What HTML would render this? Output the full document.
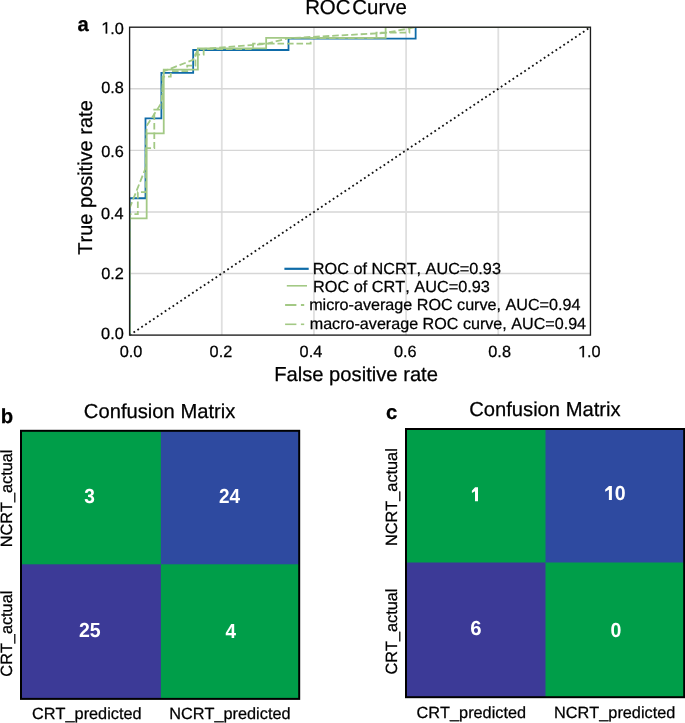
<!DOCTYPE html><html><head><meta charset="utf-8"><style>html,body{margin:0;padding:0;background:#fff;}svg{display:block;will-change:transform;}text{font-family:"Liberation Sans",sans-serif;text-rendering:geometricPrecision;font-kerning:none;}</style></head><body>
<svg width="685" height="723" viewBox="0 0 685 723">
<rect width="685" height="723" fill="#fff"/>
<defs><clipPath id="ax"><rect x="129.60" y="27.20" width="460.85" height="307.9"/></clipPath></defs>
<line x1="221.77" y1="335.10" x2="221.77" y2="27.20" stroke="#dfdfdf" stroke-width="1.8"/>
<line x1="129.60" y1="273.52" x2="590.45" y2="273.52" stroke="#d6d6d6" stroke-width="1.4"/>
<line x1="313.94" y1="335.10" x2="313.94" y2="27.20" stroke="#dfdfdf" stroke-width="1.8"/>
<line x1="129.60" y1="211.94" x2="590.45" y2="211.94" stroke="#d6d6d6" stroke-width="1.4"/>
<line x1="406.11" y1="335.10" x2="406.11" y2="27.20" stroke="#dfdfdf" stroke-width="1.8"/>
<line x1="129.60" y1="150.36" x2="590.45" y2="150.36" stroke="#d6d6d6" stroke-width="1.4"/>
<line x1="498.28" y1="335.10" x2="498.28" y2="27.20" stroke="#dfdfdf" stroke-width="1.8"/>
<line x1="129.60" y1="88.78" x2="590.45" y2="88.78" stroke="#d6d6d6" stroke-width="1.4"/>
<line x1="129.60" y1="335.10" x2="590.45" y2="27.20" stroke="#111" stroke-width="1.8" stroke-dasharray="1.8 2.9"/>
<g clip-path="url(#ax)">
<polyline points="129.60,335.10 129.60,198.26 145.49,198.26 145.49,118.43 161.38,118.43 161.38,72.81 193.17,72.81 193.17,50.01 288.51,50.01 288.51,38.60 415.64,38.60 415.64,27.20 590.45,27.20" fill="none" stroke="#0e6ba8" stroke-width="1.8"/>
<polyline points="129.60,335.10 129.60,218.31 146.67,218.31 146.67,133.37 163.74,133.37 163.74,69.67 197.87,69.67 197.87,48.43 266.15,48.43 266.15,37.82 385.63,37.82 385.63,27.20 590.45,27.20" fill="none" stroke="#a3c985" stroke-width="1.8"/>
<polyline points="129.60,335.10 129.60,214.14 137.83,214.14 137.83,192.15 146.06,192.15 146.06,148.16 154.29,148.16 154.29,109.67 162.52,109.67 162.52,76.68 170.75,76.68 170.75,71.19 187.21,71.19 187.21,65.69 195.44,65.69 195.44,54.69 203.67,54.69 203.67,49.19 253.04,49.19 253.04,43.69 310.65,43.69 310.65,38.20 376.48,38.20 376.48,32.70 409.40,32.70 409.40,27.20 590.45,27.20" fill="none" stroke="#a3c985" stroke-width="1.8" stroke-dasharray="6.6 2.9" stroke-dashoffset="7.2"/>
<polyline points="129.60,208.28 145.49,168.37 146.67,125.90 161.38,103.09 163.74,71.24 193.17,59.84 197.87,49.22 266.15,43.91 288.51,38.21 385.63,32.90 415.64,27.20 590.45,27.20" fill="none" stroke="#a3c985" stroke-width="1.8" stroke-dasharray="6.6 2.9" stroke-dashoffset="0"/>
</g>
<rect x="129.60" y="27.20" width="460.85" height="307.9" fill="none" stroke="#1c1c1c" stroke-width="1.35"/>
<g transform="translate(101.08,33.51)">
<path transform="translate(0.00,0) scale(0.00796,-0.00796)" d="M763,0 L763,1409 L597,1409 L223,1180 L223,1010 L582,1237 L582,0 Z" fill="#000" stroke="#000" stroke-width="31.41"/>
<text x="9.06" y="0" font-size="16.3" fill="#000" stroke="#000" stroke-width="0.25">.0</text>
</g>
<text transform="translate(101.15,92.56)" font-size="16.3" fill="#000" stroke="#000" stroke-width="0.25">0.8</text>
<text transform="translate(101.16,156.96)" font-size="16.3" fill="#000" stroke="#000" stroke-width="0.25">0.6</text>
<text transform="translate(100.92,218.81)" font-size="16.3" fill="#000" stroke="#000" stroke-width="0.25">0.4</text>
<text transform="translate(101.26,278.71)" font-size="16.3" fill="#000" stroke="#000" stroke-width="0.25">0.2</text>
<text transform="translate(101.08,339.46)" font-size="16.3" fill="#000" stroke="#000" stroke-width="0.25">0.0</text>
<text transform="translate(119.77,357.20)" font-size="16.3" fill="#000" stroke="#000" stroke-width="0.25">0.0</text>
<text transform="translate(209.61,357.20)" font-size="16.3" fill="#000" stroke="#000" stroke-width="0.25">0.2</text>
<text transform="translate(299.59,357.20)" font-size="16.3" fill="#000" stroke="#000" stroke-width="0.25">0.4</text>
<text transform="translate(393.96,357.20)" font-size="16.3" fill="#000" stroke="#000" stroke-width="0.25">0.6</text>
<text transform="translate(488.31,357.20)" font-size="16.3" fill="#000" stroke="#000" stroke-width="0.25">0.8</text>
<g transform="translate(577.87,357.20)">
<path transform="translate(0.00,0) scale(0.00796,-0.00796)" d="M763,0 L763,1409 L597,1409 L223,1180 L223,1010 L582,1237 L582,0 Z" fill="#000" stroke="#000" stroke-width="31.41"/>
<text x="9.06" y="0" font-size="16.3" fill="#000" stroke="#000" stroke-width="0.25">.0</text>
</g>
<text transform="translate(274.14,381.30)" font-size="20.2" fill="#000" stroke="#000" stroke-width="0.25">False positive rate</text>
<text transform="translate(91.90,254.75) rotate(-90)" font-size="20.0" fill="#000" stroke="#000" stroke-width="0.25">True positive rate</text>
<text transform="translate(305.13,14.45)" font-size="20.4" fill="#000" stroke="#000" stroke-width="0.25">ROC</text>
<text transform="translate(352.36,14.45)" font-size="20.4" fill="#000" stroke="#000" stroke-width="0.25">Curve</text>
<text transform="translate(77.51,31.30)" font-size="20.3" font-weight="bold" fill="#000" stroke="#000" stroke-width="0.25">a</text>
<line x1="284.4" y1="268.8" x2="308.7" y2="268.8" stroke="#0e6ba8" stroke-width="2.2"/>
<line x1="286.8" y1="285.8" x2="307" y2="285.8" stroke="#a3c985" stroke-width="1.6"/>
<line x1="285.1" y1="305" x2="296.4" y2="305" stroke="#a3c985" stroke-width="2.0"/>
<line x1="300.9" y1="305" x2="304.2" y2="305" stroke="#a3c985" stroke-width="2.0"/>
<line x1="285.1" y1="324.3" x2="296.4" y2="324.3" stroke="#a3c985" stroke-width="1.6"/>
<line x1="300.9" y1="324.3" x2="304.2" y2="324.3" stroke="#a3c985" stroke-width="1.6"/>
<text transform="translate(312.87,274.00) scale(1.0144,1)" font-size="16.0" fill="#000" stroke="#000" stroke-width="0.25">ROC of NCRT, AUC=0.93</text>
<text transform="translate(312.96,292.10) scale(1.0180,1)" font-size="16.0" fill="#000" stroke="#000" stroke-width="0.25">ROC of CRT, AUC=0.93</text>
<text transform="translate(309.13,309.90) scale(1.0084,1)" font-size="16.0" fill="#000" stroke="#000" stroke-width="0.25">micro-average ROC curve, AUC=0.94</text>
<text transform="translate(309.73,329.20) scale(1.0073,1)" font-size="16.0" fill="#000" stroke="#000" stroke-width="0.25">macro-average ROC curve, AUC=0.94</text>
<rect x="21" y="430.8" width="278.2" height="268.09" fill="#009e49"/>
<rect x="160.9" y="430.8" width="138.29" height="133.49" fill="#2e4aa0"/>
<rect x="21" y="564.3" width="139.9" height="134.60" fill="#3c3a97"/>
<rect x="21" y="430.8" width="278.2" height="268.09" fill="none" stroke="#000" stroke-width="2"/>
<text transform="translate(84.16,503.17) scale(0.9415,1)" font-size="20.3" font-weight="bold" fill="#fff" stroke="#fff" stroke-width="0">3</text>
<text transform="translate(218.94,503.20) scale(0.9326,1)" font-size="20.3" font-weight="bold" fill="#fff" stroke="#fff" stroke-width="0">24</text>
<text transform="translate(78.92,636.80) scale(0.9619,1)" font-size="20.3" font-weight="bold" fill="#fff" stroke="#fff" stroke-width="0">25</text>
<text transform="translate(225.61,638.20) scale(0.9289,1)" font-size="20.3" font-weight="bold" fill="#fff" stroke="#fff" stroke-width="0">4</text>
<text transform="translate(83.87,418.00)" font-size="20.2" fill="#000" stroke="#000" stroke-width="0.25">Confusion Matrix</text>
<text transform="translate(0.86,423.30)" font-size="20.3" font-weight="bold" fill="#000" stroke="#000" stroke-width="0.25">b</text>
<text transform="translate(11.85,547.29) rotate(-90)" font-size="16.3" fill="#000" stroke="#000" stroke-width="0.25">NCRT_actual</text>
<text transform="translate(11.85,676.63) rotate(-90)" font-size="16.3" fill="#000" stroke="#000" stroke-width="0.25">CRT_actual</text>
<text transform="translate(32.07,718.90)" font-size="16.3" fill="#000" stroke="#000" stroke-width="0.25">CRT_predicted</text>
<text transform="translate(169.26,719.40)" font-size="16.3" fill="#000" stroke="#000" stroke-width="0.25">NCRT_predicted</text>
<rect x="406" y="429" width="278.20" height="268.20" fill="#009e49"/>
<rect x="545.5" y="429" width="138.70" height="133.5" fill="#2e4aa0"/>
<rect x="406" y="562.5" width="139.5" height="134.70" fill="#3c3a97"/>
<rect x="406" y="429" width="278.20" height="268.20" fill="none" stroke="#000" stroke-width="2"/>
<path d="M478.00,487.25 L478.00,501.20 L475.00,501.20 L475.00,491.15 L471.90,493.05 L471.90,490.75 L475.10,487.25 Z" fill="#fff"/>
<path d="M611.90,485.95 L611.90,499.90 L608.90,499.90 L608.90,489.85 L605.20,491.75 L605.20,489.45 L609.00,485.95 Z" fill="#fff"/>
<text transform="translate(614.73,499.70) scale(0.9633,1)" font-size="20.3" font-weight="bold" fill="#fff" stroke="#fff" stroke-width="0">0</text>
<text transform="translate(470.16,635.30) scale(0.9987,1)" font-size="20.3" font-weight="bold" fill="#fff" stroke="#fff" stroke-width="0">6</text>
<text transform="translate(610.43,636.80) scale(0.9633,1)" font-size="20.3" font-weight="bold" fill="#fff" stroke="#fff" stroke-width="0">0</text>
<text transform="translate(469.17,416.40)" font-size="20.2" fill="#000" stroke="#000" stroke-width="0.25">Confusion Matrix</text>
<text transform="translate(385.91,418.50)" font-size="20.3" font-weight="bold" fill="#000" stroke="#000" stroke-width="0.25">c</text>
<text transform="translate(396.50,545.94) rotate(-90)" font-size="16.3" fill="#000" stroke="#000" stroke-width="0.25">NCRT_actual</text>
<text transform="translate(396.50,674.53) rotate(-90)" font-size="16.3" fill="#000" stroke="#000" stroke-width="0.25">CRT_actual</text>
<text transform="translate(416.57,718.30)" font-size="16.3" fill="#000" stroke="#000" stroke-width="0.25">CRT_predicted</text>
<text transform="translate(554.06,718.30)" font-size="16.3" fill="#000" stroke="#000" stroke-width="0.25">NCRT_predicted</text>
</svg></body></html>
